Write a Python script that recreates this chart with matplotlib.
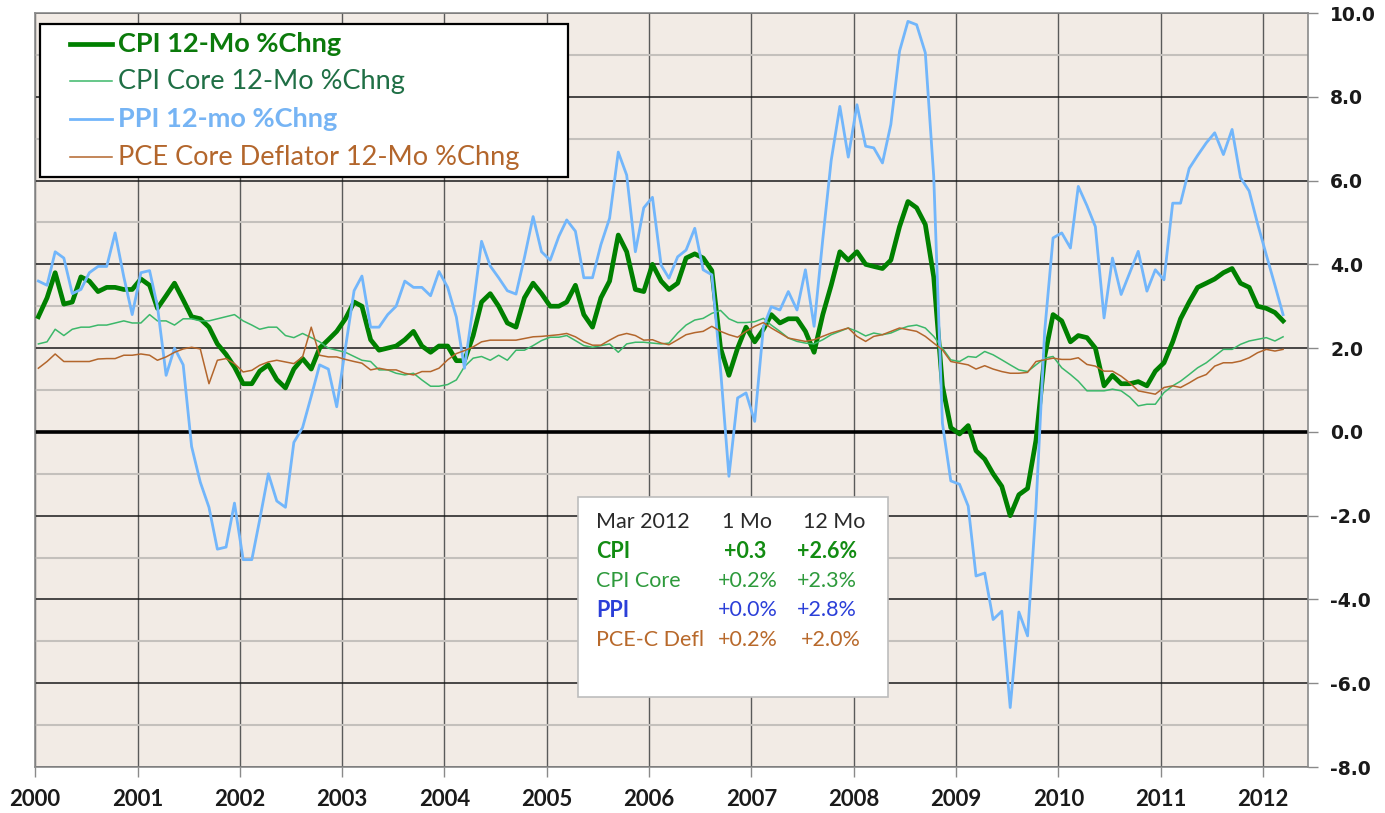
import matplotlib
matplotlib.use("Agg")
import matplotlib.pyplot as plt
import matplotlib.dates as mdates
import numpy as np
import pandas as pd
from matplotlib import font_manager
from matplotlib.lines import Line2D
from matplotlib.patches import Rectangle
from matplotlib.ticker import FixedLocator, FormatStrFormatter

# monthly 12-month % changes, Jan 2000 .. Mar 2012
cpi = [
    2.75, 3.2, 3.8, 3.05, 3.1, 3.7, 3.6, 3.35, 3.45, 3.45, 3.4, 3.4,
    3.65, 3.5, 2.95, 3.25, 3.55, 3.15, 2.75, 2.7, 2.5, 2.1, 1.85, 1.55,
    1.15, 1.15, 1.45, 1.6, 1.25, 1.05, 1.5, 1.75, 1.5, 2.0, 2.2, 2.4,
    2.7, 3.1, 3.0, 2.2, 1.95, 2.0, 2.05, 2.2, 2.4, 2.05, 1.9, 2.05,
    2.05, 1.7, 1.7, 2.3, 3.1, 3.3, 3.0, 2.6, 2.5, 3.2, 3.55, 3.3,
    3.0, 3.0, 3.1, 3.5, 2.8, 2.5, 3.2, 3.6, 4.7, 4.3, 3.4, 3.35,
    4.0, 3.6, 3.4, 3.55, 4.15, 4.25, 4.15, 3.85, 2.0, 1.35, 2.0, 2.5,
    2.15, 2.45, 2.8, 2.6, 2.7, 2.7, 2.4, 1.9, 2.8, 3.5, 4.3, 4.1,
    4.3, 4.0, 3.95, 3.9, 4.1, 4.9, 5.5, 5.35, 4.95, 3.7, 1.1, 0.1,
    -0.05, 0.15, -0.45, -0.65, -1.0, -1.3, -2.0, -1.5, -1.35, -0.2, 1.8, 2.8,
    2.65, 2.15, 2.3, 2.25, 2.0, 1.1, 1.35, 1.15, 1.15, 1.2, 1.1, 1.45,
    1.65, 2.15, 2.7, 3.1, 3.45, 3.55, 3.65, 3.8, 3.9, 3.55, 3.45, 3.0,
    2.95, 2.85, 2.65,
]
cpi_core = [
    2.1, 2.15, 2.45, 2.3, 2.45, 2.5, 2.5, 2.55, 2.55, 2.6, 2.65, 2.6,
    2.6, 2.8, 2.65, 2.65, 2.55, 2.7, 2.7, 2.65, 2.65, 2.7, 2.75, 2.8,
    2.65, 2.55, 2.45, 2.5, 2.5, 2.3, 2.25, 2.35, 2.25, 2.15, 2.0, 1.95,
    1.9, 1.8, 1.71, 1.68, 1.48, 1.48, 1.4, 1.36, 1.4, 1.24, 1.09, 1.09,
    1.13, 1.24, 1.56, 1.76, 1.8, 1.71, 1.83, 1.71, 1.95, 1.95, 2.06, 2.18,
    2.26, 2.26, 2.3, 2.18, 2.06, 2.02, 2.06, 2.1, 1.9, 2.1, 2.14, 2.14,
    2.12, 2.1, 2.12, 2.36, 2.55, 2.67, 2.71, 2.83, 2.9, 2.7, 2.61, 2.61,
    2.63, 2.71, 2.55, 2.4, 2.24, 2.16, 2.12, 2.1, 2.2, 2.32, 2.4, 2.48,
    2.4, 2.29, 2.36, 2.32, 2.36, 2.45, 2.52, 2.55, 2.48, 2.28, 2.0, 1.72,
    1.68, 1.8, 1.78, 1.92, 1.84, 1.72, 1.6, 1.48, 1.44, 1.6, 1.76, 1.8,
    1.53, 1.37, 1.21, 0.98, 0.98, 0.98, 1.02, 0.98, 0.83, 0.62, 0.66, 0.66,
    0.94, 1.1, 1.21, 1.37, 1.53, 1.65, 1.81, 1.97, 1.97, 2.09, 2.17, 2.21,
    2.25, 2.17, 2.27,
]
ppi = [
    3.6, 3.5, 4.3, 4.15, 3.3, 3.4, 3.8, 3.95, 3.95, 4.75, 3.7, 2.8,
    3.8, 3.85, 3.0, 1.35, 2.0, 1.6, -0.35, -1.2, -1.8, -2.8, -2.75, -1.7,
    -3.05, -3.05, -2.1, -1.0, -1.65, -1.8, -0.25, 0.1, 0.85, 1.6, 1.5, 0.6,
    2.0, 3.37, 3.72, 2.5, 2.5, 2.8, 3.0, 3.6, 3.45, 3.45, 3.25, 3.83,
    3.45, 2.74, 1.52, 3.0, 4.55, 3.96, 3.68, 3.37, 3.29, 4.16, 5.14, 4.3,
    4.1, 4.67, 5.06, 4.79, 3.68, 3.68, 4.47, 5.1, 6.68, 6.13, 4.3, 5.35,
    5.6, 3.98, 3.67, 4.18, 4.34, 4.86, 3.87, 3.75, 1.5, -1.06, 0.81, 0.93,
    0.25, 2.5, 2.99, 2.91, 3.35, 2.91, 3.87, 2.52, 4.6, 6.48, 7.77, 6.56,
    7.81, 6.82, 6.78, 6.42, 7.34, 9.09, 9.8, 9.72, 9.05, 6.1, 0.21, -1.17,
    -1.25, -1.77, -3.44, -3.37, -4.48, -4.28, -6.58, -4.3, -4.87, -1.8, 2.4, 4.63,
    4.75, 4.39, 5.86, 5.4, 4.9, 2.72, 4.15, 3.28, 3.8, 4.31, 3.36, 3.87,
    3.63, 5.46, 5.46, 6.29, 6.6, 6.9, 7.14, 6.62, 7.22, 6.07, 5.75, 4.97,
    4.23, 3.5, 2.8,
]
pce_core = [
    1.52, 1.68, 1.86, 1.68, 1.68, 1.68, 1.68, 1.74, 1.75, 1.75, 1.83, 1.83,
    1.86, 1.83, 1.71, 1.79, 1.9, 1.98, 2.02, 1.98, 1.15, 1.71, 1.75, 1.63,
    1.43, 1.47, 1.59, 1.67, 1.71, 1.67, 1.63, 1.79, 2.5, 1.83, 1.79, 1.79,
    1.73, 1.68, 1.64, 1.48, 1.52, 1.48, 1.48, 1.4, 1.36, 1.44, 1.44, 1.52,
    1.72, 1.87, 1.94, 2.03, 2.15, 2.19, 2.19, 2.19, 2.19, 2.23, 2.27, 2.28,
    2.3, 2.32, 2.35, 2.27, 2.15, 2.07, 2.07, 2.19, 2.3, 2.35, 2.3, 2.19,
    2.2, 2.12, 2.08, 2.2, 2.32, 2.37, 2.4, 2.52, 2.4, 2.32, 2.26, 2.4,
    2.52, 2.61, 2.48, 2.36, 2.24, 2.2, 2.16, 2.2, 2.28, 2.36, 2.42, 2.48,
    2.28, 2.16, 2.28, 2.32, 2.4, 2.48, 2.44, 2.4, 2.28, 2.12, 1.96, 1.68,
    1.64, 1.6, 1.5, 1.58, 1.5, 1.44, 1.4, 1.4, 1.42, 1.68, 1.72, 1.76,
    1.73, 1.73, 1.77, 1.61, 1.57, 1.45, 1.45, 1.33, 1.17, 0.98, 0.94, 0.9,
    1.06, 1.1, 1.06, 1.17, 1.29, 1.37, 1.57, 1.65, 1.65, 1.69, 1.77, 1.89,
    1.97, 1.93, 1.97,
]

legend_labels = ["CPI 12-Mo %Chng", "CPI Core 12-Mo %Chng",
                 "PPI 12-mo %Chng", "PCE Core Deflator 12-Mo %Chng"]
box_header = ["Mar 2012", "1 Mo", "12 Mo"]
box_rows = [("CPI", "+0.3", "+2.6%"),
            ("CPI Core", "+0.2%", "+2.3%"),
            ("PPI", "+0.0%", "+2.8%"),
            ("PCE-C Defl", "+0.2%", "+2.0%")]

CPI_C = "#008000"
CORE_C = "#3cb86a"
PPI_C = "#72b6fb"
PCE_C = "#b3662c"

# narrow bold face for the year labels, if one is installed
installed = {f.name for f in font_manager.fontManager.ttflist}
year_family = [f for f in ["Liberation Sans Narrow", "DejaVu Sans Condensed", "Lato"] if f in installed]
year_family.append("DejaVu Sans")

W, H = 1385, 813
dates = pd.date_range("2000-01-01", periods=len(cpi), freq="MS") + pd.Timedelta(days=12)

fig = plt.figure(figsize=(W / 100, H / 100), dpi=100)
ax = fig.add_axes([35 / W, 1 - 767 / H, (1308 - 35) / W, (767 - 13) / H])
ax.set_facecolor("#f2ebe5")

ax.plot(dates, cpi, color=CPI_C, lw=3.4, zorder=3, solid_joinstyle="round")
ax.plot(dates, cpi_core, color=CORE_C, lw=1.1, zorder=4)
ax.plot(dates, ppi, color=PPI_C, lw=2.0, zorder=5)
ax.plot(dates, pce_core, color=PCE_C, lw=1.1, zorder=6)

ax.set_xlim(pd.Timestamp("2000-01-01"), pd.Timestamp("2012-06-10"))
ax.set_ylim(-8, 10)

# grid
ax.xaxis.set_major_locator(mdates.YearLocator())
ax.xaxis.set_major_formatter(mdates.DateFormatter("%Y"))
ax.yaxis.set_major_locator(FixedLocator(np.arange(-8, 11, 2)))
ax.yaxis.set_minor_locator(FixedLocator(np.arange(-7, 10, 2)))
ax.yaxis.set_major_formatter(FormatStrFormatter("%.1f"))
ax.grid(axis="x", which="major", color="#5a5a5a", lw=1.0, zorder=1)
ax.grid(axis="y", which="major", color="#1a1a1a", lw=1.1, zorder=1)
ax.grid(axis="y", which="minor", color="#c4c0bc", lw=1.5, zorder=1)
ax.axhline(0, color="black", lw=2.6, zorder=2)
ax.set_axisbelow(True)

for side in ["left", "right", "bottom", "top"]:
    ax.spines[side].set_color("#8a8a8a")
    ax.spines[side].set_linewidth(1.2)

ax.yaxis.tick_right()
ax.tick_params(axis="y", which="major", length=7, width=1, color="#8a8a8a", pad=9)
ax.tick_params(axis="y", which="minor", length=0)
ax.tick_params(axis="x", which="major", length=7, width=1, color="#8a8a8a", pad=9)
for lab in ax.get_yticklabels():
    lab.set_fontfamily("DejaVu Sans")
    lab.set_fontweight("bold")
    lab.set_fontsize(13.5)
    lab.set_color("#1a1a1a")
for lab in ax.get_xticklabels():
    lab.set_fontfamily(year_family)
    lab.set_fontweight("bold")
    lab.set_fontsize(16)
    lab.set_color("#1a1a1a")

# legend box
fig.add_artist(Rectangle((40 / W, 1 - 177 / H), 528 / W, 153 / H, transform=fig.transFigure,
                         facecolor="white", edgecolor="black", lw=1.6, zorder=10))
leg_styles = [(CPI_C, 3.4, "#0b7a0b", "bold"),
              (CORE_C, 1.1, "#1f6f45", "normal"),
              (PPI_C, 2.0, "#76b4f4", "bold"),
              (PCE_C, 1.1, "#b3662c", "normal")]
for row_y, label, (lc, lw, tc, fw) in zip([44, 81, 119, 157], legend_labels, leg_styles):
    fy = 1 - row_y / H
    fig.add_artist(Line2D([70 / W, 112 / W], [fy, fy], color=lc, lw=lw,
                          transform=fig.transFigure, zorder=11))
    fig.text(118 / W, fy, label, color=tc, fontweight=fw, fontsize=19.5,
             fontfamily="Lato", va="center", ha="left", zorder=12)

# summary box
fig.add_artist(Rectangle((578 / W, 1 - 697 / H), 310 / W, 200 / H, transform=fig.transFigure,
                         facecolor="white", edgecolor="#bdbdbd", lw=1.2, zorder=10))
col_x = [596, 722, 803]
fy = 1 - 522 / H
for x, t in zip(col_x, box_header):
    fig.text(x / W, fy, t, color="#2a2a2a", fontsize=15.5, fontfamily="Lato",
             va="center", ha="left", zorder=12)
row_styles = [("#128c12", "bold", "bold"),
              ("#2e9a3c", "normal", "normal"),
              ("#2b3fd8", "bold", "normal"),
              ("#b8692b", "normal", "normal")]
val_x = [[596, 724, 797], [596, 718, 797], [596, 718, 797], [596, 718, 801]]
for row_y, row, (c, fw_lab, fw_val), xs in zip([551, 581, 610, 640], box_rows, row_styles, val_x):
    fy = 1 - row_y / H
    for i, (x, t) in enumerate(zip(xs, row)):
        fw = fw_lab if i == 0 else fw_val
        fig.text(x / W, fy, t, color=c, fontsize=15.5, fontweight=fw, fontfamily="Lato",
                 va="center", ha="left", zorder=12)

fig.savefig("out.png", dpi=100, facecolor="white")
